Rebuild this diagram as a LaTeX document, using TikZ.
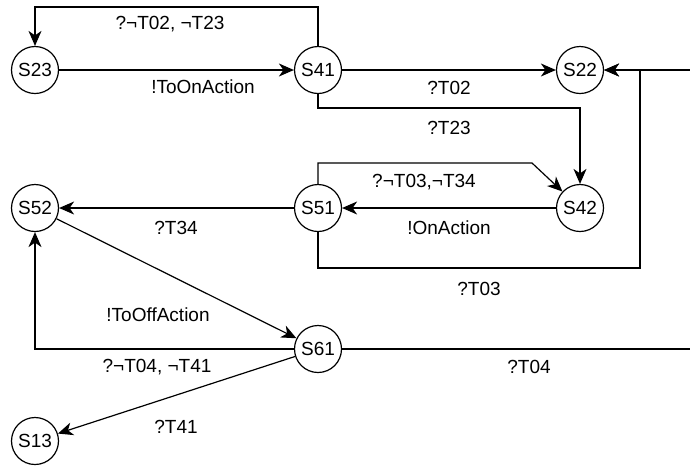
\documentclass[tikz,border=0pt]{standalone}
\usepackage{fontspec}
\setmainfont{Liberation Sans}
\usetikzlibrary{arrows.meta}
\begin{document}
\begin{tikzpicture}[x=1pt,y=-1pt,
  st/.style={circle,draw,line width=1.2pt,minimum size=47pt,inner sep=0pt,font=\fontsize{19}{22}\selectfont},
  lbl/.style={font=\fontsize{19}{22}\selectfont,inner sep=0pt},
  arr/.style={line width=1.2pt,-{Stealth[length=15pt,width=13pt,inset=4.5pt]}},
  ln/.style={line width=1.2pt}]
\clip (0,0) rectangle (690,475);
\fill[white] (0,0) rectangle (690,475);
\node[st] (S23) at (35,70) {S23};
\node[st] (S41) at (318,70) {S41};
\node[st] (S22) at (580,70) {S22};
\node[st] (S42) at (580,208) {S42};
\node[st] (S51) at (318,208) {S51};
\node[st] (S52) at (35,208) {S52};
\node[st] (S61) at (318,349) {S61};
\node[st] (S13) at (35,441) {S13};
\coordinate (topL) at (35,7);
\coordinate (m1) at (580,108);
\coordinate (r1) at (640,268);
\coordinate (b1) at (532,163);
\coordinate (offR) at (710,70);
% edges
\draw[arr] (S23) -- (S41);
\draw[arr] (S41.north) |- (topL) -- (S23.north);
\draw[arr] (S41) -- (S22);
\draw[arr] (S41.south) |- (m1) -- (S42.north);
\draw[arr] (S51.south) |- (r1) |- (S22.east);
\draw[arr] (S61.east) -| (offR) -- (S22.east);
\draw[arr] (S42) -- (S51);
\draw[arr] (S51.north) |- (b1) -- (S42);
\draw[arr] (S51) -- (S52);
\draw[arr] (S52) -- (S61);
\draw[arr] (S61.west) -| (S52.south);
\draw[arr] (S61) -- (S13);
% labels
\node[lbl] (l1) at (170,24) {?¬T02, ¬T23};
\node[lbl] (l2) at (203,87) {!ToOnAction};
\node[lbl] (l3) at (449,88) {?T02};
\node[lbl] (l4) at (449,128) {?T23};
\node[lbl] (l5) at (424,182) {?¬T03,¬T34};
\node[lbl] (l6) at (449,228) {!OnAction};
\node[lbl] (l7) at (176,228) {?T34};
\node[lbl] (l8) at (479,289) {?T03};
\node[lbl] (l9) at (158,315) {!ToOffAction};
\node[lbl] (l10) at (157,367) {?¬T04, ¬T41};
\node[lbl] (l11) at (529,367) {?T04};
\node[lbl] (l12) at (176,427) {?T41};
\end{tikzpicture}
\end{document}
